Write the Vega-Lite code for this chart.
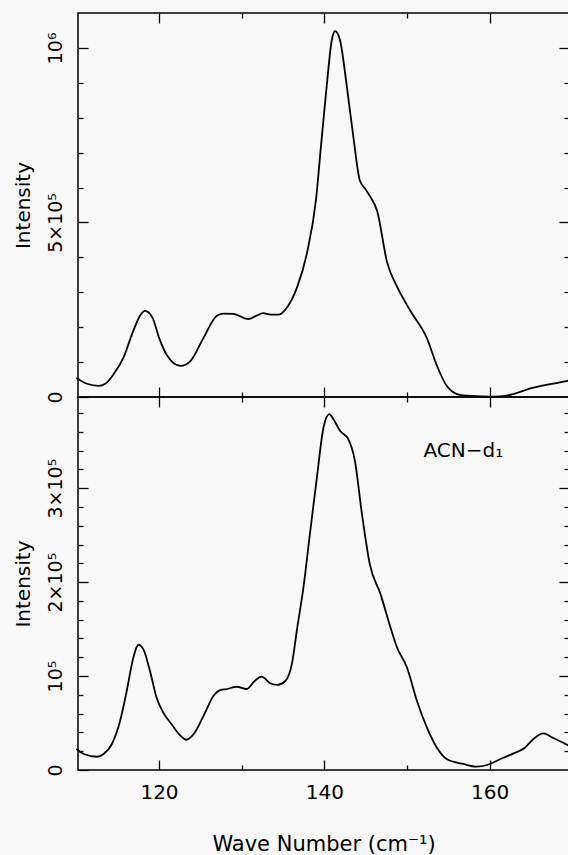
{
  "$schema": "https://vega.github.io/schema/vega-lite/v6.json",
  "background": "#f8f8f8",
  "padding": {"left": 12, "top": 11, "right": 0, "bottom": 0},
  "spacing": 0,
  "bounds": "flush",
  "config": {
    "view": {"stroke": "black", "strokeWidth": 1.5},
    "font": "DejaVu Sans",
    "axis": {"domain": false, "grid": false, "tickColor": "black", "tickWidth": 1.3, "labelColor": "black", "titleColor": "black", "labelFont": "DejaVu Sans", "titleFont": "DejaVu Sans", "labelFontSize": 19, "titleFontSize": 20, "titleFontWeight": "normal"}
  },
  "datasets": {
    "top": [
      {"x": 110.0, "y": 55000}, {"x": 110.6, "y": 46000}, {"x": 111.3, "y": 38000}, {"x": 112.7, "y": 32000},
      {"x": 113.5, "y": 38000}, {"x": 114.5, "y": 65000}, {"x": 115.7, "y": 113000}, {"x": 116.9, "y": 190000},
      {"x": 117.7, "y": 233000}, {"x": 118.3, "y": 247000}, {"x": 119.2, "y": 228000}, {"x": 120.0, "y": 170000},
      {"x": 121.0, "y": 118000}, {"x": 122.6, "y": 89000}, {"x": 123.8, "y": 103000}, {"x": 125.4, "y": 170000},
      {"x": 127.0, "y": 233000}, {"x": 127.8, "y": 239000}, {"x": 129.0, "y": 238000}, {"x": 130.8, "y": 223000},
      {"x": 131.8, "y": 233000}, {"x": 132.6, "y": 240000}, {"x": 133.5, "y": 236000}, {"x": 134.5, "y": 236000},
      {"x": 135.5, "y": 257000}, {"x": 136.7, "y": 314000}, {"x": 137.9, "y": 412000}, {"x": 139.0, "y": 567000},
      {"x": 139.6, "y": 720000}, {"x": 140.3, "y": 894000}, {"x": 140.9, "y": 1022000}, {"x": 141.3, "y": 1048000},
      {"x": 141.9, "y": 1022000}, {"x": 142.7, "y": 894000}, {"x": 143.5, "y": 747000}, {"x": 144.3, "y": 620000},
      {"x": 144.9, "y": 598000}, {"x": 145.5, "y": 576000}, {"x": 146.4, "y": 532000}, {"x": 147.6, "y": 385000},
      {"x": 148.8, "y": 316000}, {"x": 150.4, "y": 247000}, {"x": 152.4, "y": 169000}, {"x": 153.6, "y": 91000},
      {"x": 154.8, "y": 32000}, {"x": 156.4, "y": 6000}, {"x": 158.9, "y": 2000}, {"x": 160.5, "y": 1000},
      {"x": 162.1, "y": 4000}, {"x": 165.3, "y": 27000}, {"x": 168.5, "y": 42000}, {"x": 169.6, "y": 47000}
    ],
    "bottom": [
      {"x": 110.0, "y": 22500}, {"x": 110.9, "y": 17000}, {"x": 112.5, "y": 14100}, {"x": 113.3, "y": 17000},
      {"x": 114.3, "y": 27700}, {"x": 115.3, "y": 52400}, {"x": 116.1, "y": 84400}, {"x": 116.9, "y": 119800},
      {"x": 117.5, "y": 133300}, {"x": 118.1, "y": 128700}, {"x": 118.9, "y": 105600}, {"x": 119.7, "y": 77200},
      {"x": 120.5, "y": 61300}, {"x": 121.5, "y": 48900}, {"x": 122.6, "y": 36500}, {"x": 123.3, "y": 32200},
      {"x": 124.2, "y": 38300}, {"x": 125.4, "y": 57800}, {"x": 126.6, "y": 79000}, {"x": 127.4, "y": 85100},
      {"x": 128.2, "y": 86200}, {"x": 129.4, "y": 88600}, {"x": 130.6, "y": 86200}, {"x": 131.6, "y": 95000},
      {"x": 132.4, "y": 99300}, {"x": 133.5, "y": 92100}, {"x": 134.3, "y": 90700}, {"x": 135.3, "y": 95000},
      {"x": 136.1, "y": 114000}, {"x": 136.7, "y": 150000}, {"x": 137.5, "y": 196000}, {"x": 138.3, "y": 254600},
      {"x": 139.1, "y": 311300}, {"x": 139.9, "y": 364500}, {"x": 140.6, "y": 378700}, {"x": 141.1, "y": 373400},
      {"x": 141.9, "y": 361000}, {"x": 142.9, "y": 352100}, {"x": 143.7, "y": 329000}, {"x": 144.5, "y": 275900},
      {"x": 145.5, "y": 219100}, {"x": 146.8, "y": 187200}, {"x": 148.0, "y": 151700}, {"x": 148.8, "y": 130400},
      {"x": 150.0, "y": 109100}, {"x": 151.2, "y": 73700}, {"x": 152.4, "y": 45300}, {"x": 153.6, "y": 24000},
      {"x": 154.8, "y": 11700}, {"x": 156.8, "y": 6400}, {"x": 158.4, "y": 3500}, {"x": 159.8, "y": 5600},
      {"x": 161.3, "y": 11700}, {"x": 162.9, "y": 17700}, {"x": 164.3, "y": 24000}, {"x": 165.3, "y": 33000},
      {"x": 166.5, "y": 38900}, {"x": 167.7, "y": 34000}, {"x": 169.6, "y": 25900}
    ],
    "note": [{"x": 152.0, "y": 339000, "label": "ACN−d₁"}]
  },
  "vconcat": [
    {
      "width": 491,
      "height": 384,
      "data": {"name": "top"},
      "layer": [
        {
          "mark": {"type": "line", "color": "black", "strokeWidth": 1.8, "interpolate": "monotone"},
          "encoding": {
            "x": {"field": "x", "type": "quantitative", "scale": {"domain": [110.2, 169.6], "nice": false, "zero": false},
                  "axis": {"orient": "bottom", "values": [120, 140, 160], "labels": false, "tickSize": -10, "title": null}},
            "y": {"field": "y", "type": "quantitative", "scale": {"domain": [0, 1100000], "nice": false},
                  "axis": {"orient": "left", "values": [0, 500000, 1000000], "tickSize": -10, "labelAngle": -90, "labelAlign": "center", "labelBaseline": "bottom", "labelPadding": 23,
                           "labelExpr": "datum.value == 0 ? '0' : datum.value == 500000 ? '5×10⁵' : '10⁶'", "title": "Intensity", "titlePadding": 13}}
          }
        },
        {
          "mark": {"type": "line", "strokeOpacity": 0},
          "encoding": {
            "x": {"field": "x", "type": "quantitative", "axis": {"orient": "bottom", "values": [130, 150], "labels": false, "tickSize": -5, "title": null}},
            "y": {"field": "y", "type": "quantitative", "axis": {"orient": "left", "values": [100000, 200000, 300000, 400000, 600000, 700000, 800000, 900000], "labels": false, "tickSize": -5, "title": null}}
          }
        },
        {
          "mark": {"type": "line", "strokeOpacity": 0},
          "encoding": {
            "x": {"field": "x", "type": "quantitative", "axis": {"orient": "top", "values": [120, 140, 160], "labels": false, "tickSize": -10, "title": null}},
            "y": {"field": "y", "type": "quantitative", "axis": {"orient": "right", "values": [500000, 1000000], "labels": false, "tickSize": -10, "title": null}}
          }
        },
        {
          "mark": {"type": "line", "strokeOpacity": 0},
          "encoding": {
            "x": {"field": "x", "type": "quantitative", "axis": {"orient": "top", "values": [130, 150], "labels": false, "tickSize": -5, "title": null}},
            "y": {"field": "y", "type": "quantitative", "axis": {"orient": "right", "values": [100000, 200000, 300000, 400000, 600000, 700000, 800000, 900000], "labels": false, "tickSize": -5, "title": null}}
          }
        }
      ],
      "resolve": {"axis": {"x": "independent", "y": "independent"}}
    },
    {
      "width": 491,
      "height": 373,
      "layer": [
        {
          "data": {"name": "bottom"},
          "mark": {"type": "line", "color": "black", "strokeWidth": 1.8, "interpolate": "monotone"},
          "encoding": {
            "x": {"field": "x", "type": "quantitative", "scale": {"domain": [110.2, 169.6], "nice": false, "zero": false},
                  "axis": {"orient": "bottom", "values": [120, 140, 160], "tickSize": -10, "labelPadding": 22, "labelFontSize": 20, "title": "Wave Number (cm⁻¹)", "titleFontSize": 21, "titlePadding": 31}},
            "y": {"field": "y", "type": "quantitative", "scale": {"domain": [0, 397000], "nice": false},
                  "axis": {"orient": "left", "values": [0, 100000, 200000, 300000], "tickSize": -10, "labelAngle": -90, "labelAlign": "center", "labelBaseline": "bottom", "labelPadding": 23,
                           "labelExpr": "datum.value == 0 ? '0' : datum.value == 100000 ? '10⁵' : datum.value == 200000 ? '2×10⁵' : '3×10⁵'", "title": "Intensity", "titlePadding": 13}}
          }
        },
        {
          "data": {"name": "bottom"},
          "mark": {"type": "line", "strokeOpacity": 0},
          "encoding": {
            "x": {"field": "x", "type": "quantitative", "axis": {"orient": "bottom", "values": [130, 150], "labels": false, "tickSize": -5, "title": null}},
            "y": {"field": "y", "type": "quantitative", "axis": {"orient": "left", "values": [20000, 40000, 60000, 80000, 120000, 140000, 160000, 180000, 220000, 240000, 260000, 280000, 320000, 340000, 360000, 380000], "labels": false, "tickSize": -5, "title": null}}
          }
        },
        {
          "data": {"name": "bottom"},
          "mark": {"type": "line", "strokeOpacity": 0},
          "encoding": {
            "x": {"field": "x", "type": "quantitative", "axis": {"orient": "top", "values": [120, 140, 160], "labels": false, "tickSize": -10, "title": null}},
            "y": {"field": "y", "type": "quantitative", "axis": {"orient": "right", "values": [100000, 200000, 300000], "labels": false, "tickSize": -10, "title": null}}
          }
        },
        {
          "data": {"name": "bottom"},
          "mark": {"type": "line", "strokeOpacity": 0},
          "encoding": {
            "x": {"field": "x", "type": "quantitative", "axis": {"orient": "top", "values": [130, 150], "labels": false, "tickSize": -5, "title": null}},
            "y": {"field": "y", "type": "quantitative", "axis": {"orient": "right", "values": [20000, 40000, 60000, 80000, 120000, 140000, 160000, 180000, 220000, 240000, 260000, 280000, 320000, 340000, 360000, 380000], "labels": false, "tickSize": -5, "title": null}}
          }
        },
        {
          "data": {"name": "note"},
          "mark": {"type": "text", "align": "left", "baseline": "middle", "fontSize": 20, "font": "DejaVu Sans", "color": "black"},
          "encoding": {
            "x": {"field": "x", "type": "quantitative", "axis": null},
            "y": {"field": "y", "type": "quantitative", "axis": null},
            "text": {"field": "label"}
          }
        }
      ],
      "resolve": {"axis": {"x": "independent", "y": "independent"}}
    }
  ]
}
